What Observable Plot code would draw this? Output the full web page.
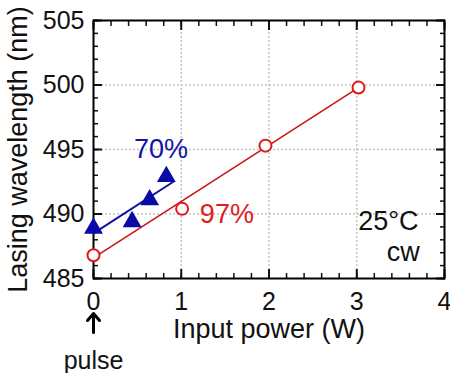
<!DOCTYPE html>
<html><head><meta charset="utf-8">
<script src="https://cdn.jsdelivr.net/npm/d3@7"></script>
<script src="https://cdn.jsdelivr.net/npm/@observablehq/plot@0.6"></script>
<style>body{margin:0;background:#fff} svg{display:block}</style>
</head><body><div id="chart"></div>
<script>
// Red series (97%) – open circles
const redPower = [0, 1.01, 1.96, 3.02];
const redWavelength = [486.8, 490.4, 495.3, 499.8];
const redFitPower = [0, 3.02];
const redFitWavelength = [486.6, 499.8];
// Blue series (70%) – filled triangles
const bluePower = [0, 0.44, 0.64, 0.83];
const blueWavelength = [488.9, 489.4, 491.1, 492.9];
const blueFitPower = [0, 0.91];
const blueFitWavelength = [488.5, 492.5];
// Ticks
const xMajorTicks = [0, 1, 2, 3, 4];
const xMinorTicks = [0, 0.2, 0.4, 0.6, 0.8, 1, 1.2, 1.4, 1.6, 1.8, 2, 2.2, 2.4, 2.6, 2.8, 3, 3.2, 3.4, 3.6, 3.8, 4];
const yMajorTicks = [485, 490, 495, 500, 505];
const yMinorTicks = [485,486,487,488,489,490,491,492,493,494,495,496,497,498,499,500,501,502,503,504,505];
const xGrid = [1, 2, 3];
const yGrid = [490, 495, 500];
// Annotations
const labelText = ["70%", "97%", "25°C", "cw"];
const labelX = [0.77, 1.52, 3.36, 3.53];
const labelY = [495.0, 490.0, 489.4, 487.0];
const labelColor = ["#1414a8", "#e02020", "#111", "#111"];
const xTitle = "Input power (W)";
const yTitle = "Lasing wavelength (nm)";
const pulseLabel = [{x: 0, text: "pulse"}];

const red = redPower.map((x, i) => ({x, y: redWavelength[i]}));
const redFit = redFitPower.map((x, i) => ({x, y: redFitWavelength[i]}));
const blue = bluePower.map((x, i) => ({x, y: blueWavelength[i]}));
const blueFit = blueFitPower.map((x, i) => ({x, y: blueFitWavelength[i]}));
const labels = labelText.map((t, i) => ({t, x: labelX[i], y: labelY[i], c: labelColor[i]}));

const arrowShape = {
  draw(context, l) {
    context.moveTo(0, 0);
    context.lineTo(0, -l + 1);
    context.moveTo(-6, -l + 7);
    context.lineTo(0, -l);
    context.lineTo(6, -l + 7);
  }
};

const font = "'Liberation Sans', Arial, Helvetica, sans-serif";

const chart = Plot.plot({
  width: 450, height: 373,
  marginLeft: 93, marginRight: 6, marginTop: 20, marginBottom: 95,
  style: {fontFamily: font, background: "#fff", color: "#111", overflow: "visible"},
  x: {domain: [0, 4], axis: null},
  y: {domain: [485, 505], axis: null},
  marks: [
    Plot.gridX(xGrid, {stroke: "#c4c4c4", strokeOpacity: 1, strokeWidth: 1.5, strokeDasharray: "2,2"}),
    Plot.gridY(yGrid, {stroke: "#c4c4c4", strokeOpacity: 1, strokeWidth: 1.5, strokeDasharray: "2,2"}),
    // minor ticks (inward)
    Plot.axisX(xMinorTicks, {anchor: "bottom", tickSize: -5, tickFormat: () => "", label: null, strokeWidth: 1.5}),
    Plot.axisX(xMinorTicks, {anchor: "top", tickSize: -5, tickFormat: () => "", label: null, strokeWidth: 1.5}),
    Plot.axisY(yMinorTicks, {anchor: "left", tickSize: -5, tickFormat: () => "", label: null, strokeWidth: 1.5}),
    Plot.axisY(yMinorTicks, {anchor: "right", tickSize: -5, tickFormat: () => "", label: null, strokeWidth: 1.5}),
    // major ticks (inward)
    Plot.axisX(xMajorTicks, {anchor: "bottom", tickSize: -9, tickFormat: () => "", label: null, strokeWidth: 2}),
    Plot.axisX(xMajorTicks, {anchor: "top", tickSize: -9, tickFormat: () => "", label: null, strokeWidth: 2}),
    Plot.axisY(yMajorTicks, {anchor: "left", tickSize: -9, tickFormat: () => "", label: null, strokeWidth: 2}),
    Plot.axisY(yMajorTicks, {anchor: "right", tickSize: -9, tickFormat: () => "", label: null, strokeWidth: 2}),
    // tick labels
    Plot.axisX(xMajorTicks, {anchor: "bottom", tickSize: 0, tickPadding: 14, fontSize: 25, label: null, fill: "#111"}),
    Plot.axisY(yMajorTicks, {anchor: "left", tickSize: 0, tickPadding: 9, fontSize: 25, label: null, fill: "#111"}),
    Plot.frame({stroke: "#000", strokeWidth: 2}),
    // series
    Plot.line(redFit, {x: "x", y: "y", stroke: "#cc1414", strokeWidth: 1.6}),
    Plot.line(blueFit, {x: "x", y: "y", stroke: "#10109c", strokeWidth: 2}),
    Plot.dot(red, {x: "x", y: "y", r: 6, stroke: "#e01818", strokeWidth: 2, fill: "#fff"}),
    Plot.dot(blue, {x: "x", y: "y", r: 7, symbol: "triangle", fill: "#0a0aa8", stroke: "none"}),
    // annotations
    Plot.text(labels, {x: "x", y: "y", text: "t", fill: "c", fontSize: 27, lineAnchor: "middle"}),
    // axis titles
    Plot.text([xTitle], {frameAnchor: "bottom", dy: 51, fontSize: 27, textAnchor: "middle", lineAnchor: "middle", fill: "#111"}),
    Plot.text([yTitle], {frameAnchor: "left", dx: -75, rotate: -90, fontSize: 27, textAnchor: "middle", lineAnchor: "middle", fill: "#111"}),
    // pulse arrow + label
    Plot.vector(pulseLabel, {x: "x", frameAnchor: "bottom", dy: 54, length: 19, rotate: 0, anchor: "start", shape: arrowShape, stroke: "#000", strokeWidth: 3}),
    Plot.text(pulseLabel, {x: "x", frameAnchor: "bottom", dy: 82, text: "text", fontSize: 25, textAnchor: "middle", lineAnchor: "middle", fill: "#111"})
  ]
});
document.getElementById("chart").appendChild(chart);
</script>
</body></html>
